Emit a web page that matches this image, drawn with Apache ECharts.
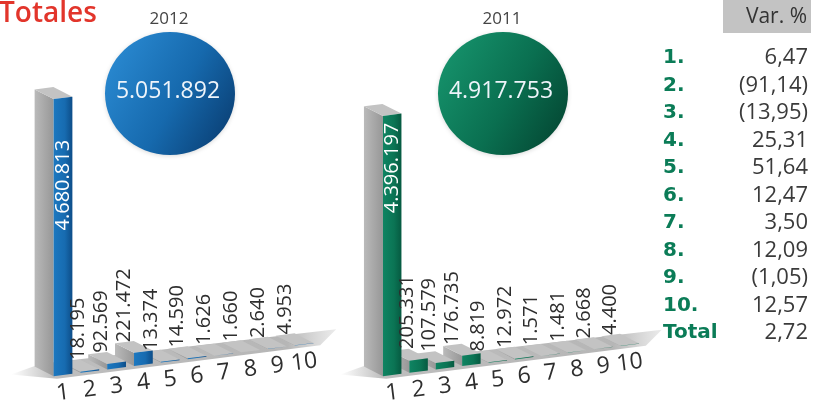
<!DOCTYPE html>
<html>
<head>
<meta charset="utf-8">
<script src="https://cdn.jsdelivr.net/npm/echarts@6/dist/echarts.min.js"></script>
<style>
  html, body { margin: 0; padding: 0; background: #ffffff; }
  #chart { width: 820px; height: 402px; }
</style>
</head>
<body>
<div id="chart"></div>
<script>
// ---- data ----
const categories = ['1', '2', '3', '4', '5', '6', '7', '8', '9', '10'];
const values2012 = [4680813, 18195, 92569, 221472, 13374, 14590, 1626, 1660, 2640, 4953];
const values2011 = [4396197, 205331, 107579, 176735, 8819, 12972, 1571, 1481, 2668, 4400];
const years = ['2012', '2011'];
const varRowLabels = ['1.', '2.', '3.', '4.', '5.', '6.', '7.', '8.', '9.', '10.', 'Total'];
const varPct = [6.47, -91.14, -13.95, 25.31, 51.64, 12.47, 3.50, 12.09, -1.05, 12.57, 2.72];

// ---- helpers ----
const FONT = '"Open Sans", "Noto Sans", sans-serif';
const SLOPE = 0.127;          // perspective tilt of the floor (px per px)
const DEPTH = [-19, -12];     // depth vector of the 3D boxes

function fmtThousands(n) {
  return String(Math.round(n)).replace(/\B(?=(\d{3})+(?!\d))/g, '.');
}
function fmtPct(p) {
  const s = Math.abs(p).toFixed(2).replace('.', ',');
  return p < 0 ? '(' + s + ')' : s;
}
const sum = arr => arr.reduce((a, b) => a + b, 0);

const charts = [
  {
    values: values2012, year: years[0], innerGap: 42,
    front: ['#1c78c0', '#176bb0', '#0d4d88'],
    circle: ['#2a8ad2', '#1669ad', '#0a3f74'],
    cx: 170
  },
  {
    values: values2011, year: years[1], innerGap: 8,
    front: ['#0f8462', '#0b7454', '#065a41'],
    circle: ['#16936c', '#0a6f50', '#044733'],
    cx: 503
  }
];

function makeTransform(api) {
  const x0 = api.coord([0, 0])[0];
  return (x, y) => [x, y - SLOPE * (x - x0)];
}

function floorRenderer(params, api) {
  const T = makeTransform(api);
  const first = api.coord([0, 0]);
  const last = api.coord([categories.length - 1, 0]);
  const yb = first[1];
  const pts = [
    T(first[0] - 52, yb - 7),
    T(first[0] - 6, yb + 3),
    T(last[0] + 16, yb + 3),
    T(last[0] + 32, yb - 11),
    T(first[0] - 22, yb - 14)
  ];
  return {
    type: 'polygon',
    shape: { points: pts },
    style: {
      fill: new echarts.graphic.LinearGradient(0, 0, 1, 0, [
        { offset: 0, color: 'rgba(195,195,195,0)' },
        { offset: 0.13, color: '#bebebe' },
        { offset: 0.85, color: '#b6b6b6' },
        { offset: 1, color: 'rgba(205,205,205,0.4)' }
      ])
    },
    z2: 0
  };
}

function barRenderer(cfg) {
  return function (params, api) {
    const T = makeTransform(api);
    const i = api.value(0);
    const v = api.value(1);
    const base = api.coord([i, 0]);
    const top = api.coord([i, v]);
    const c0 = api.coord([0, 0])[0];
    const band = api.size([1, 0])[0];
    const w = band * 0.7;
    const xl = base[0] - w / 2, xr = base[0] + w / 2;
    const yb = base[1], yt = top[1];
    const dx = DEPTH[0], dy = DEPTH[1];
    const order = (categories.length - i) * 4;

    const side = [T(xl + dx, yt + dy), T(xl, yt), T(xl, yb), T(xl + dx, yb + dy)];
    const topFace = [T(xl + dx, yt + dy), T(xr + dx, yt + dy), T(xr, yt), T(xl, yt)];
    const front = [T(xl, yt), T(xr, yt), T(xr, yb), T(xl, yb)];

    const children = [
      {
        type: 'polygon', shape: { points: side }, z2: order,
        style: {
          fill: new echarts.graphic.LinearGradient(0, 0, 1, 0, [
            { offset: 0, color: '#bababa' }, { offset: 1, color: '#979797' }
          ])
        }
      },
      { type: 'polygon', shape: { points: topFace }, z2: order + 1, style: { fill: '#c3c3c3' } },
      {
        type: 'polygon', shape: { points: front }, z2: order + 2,
        style: {
          fill: new echarts.graphic.LinearGradient(0, 0, 1, 0, [
            { offset: 0, color: cfg.front[0] }, { offset: 0.6, color: cfg.front[1] },
            { offset: 1, color: cfg.front[2] }
          ])
        }
      }
    ];

    // value label
    const text = fmtThousands(v);
    if (yb - yt > 150) {
      const p = T(base[0], yt + cfg.innerGap);
      children.push({
        type: 'text', x: p[0], y: p[1], rotation: Math.PI / 2, z2: 300,
        style: { text, fill: '#ffffff', font: '20px ' + FONT, align: 'right', verticalAlign: 'middle' }
      });
    } else {
      const lx = Math.max(base[0] - 0.72 * band, c0 + 0.56 * band + (i - 1) * 0.86 * band);
      const p = T(lx, yt - 12);
      children.push({
        type: 'text', x: p[0], y: p[1], rotation: Math.PI / 2, z2: 300,
        style: { text, fill: '#2e2e2e', font: '20px ' + FONT, align: 'left', verticalAlign: 'middle' }
      });
    }

    // category label on the tilted floor
    const q = T(base[0], yb + 18);
    children.push({
      type: 'text', x: q[0], y: q[1], rotation: 7 * Math.PI / 180, z2: 300,
      style: { text: categories[i], fill: '#2e2e2e', font: '23px ' + FONT, align: 'center', verticalAlign: 'middle' }
    });

    return { type: 'group', children };
  };
}

// ---- decorations: title, year circles, variation table ----
const graphics = [
  {
    type: 'text', left: -1, top: 0,
    style: { text: 'Totales', fill: '#e2352b', font: '600 28px ' + FONT }
  }
];
charts.forEach(cfg => {
  graphics.push({
    type: 'text', x: cfg.cx - 1, y: 19,
    style: { text: cfg.year, fill: '#444444', font: '17px ' + FONT, align: 'center', verticalAlign: 'middle' }
  });
  graphics.push({
    type: 'ellipse', shape: { cx: cfg.cx, cy: 93.5, rx: 65, ry: 61.5 },
    style: {
      fill: new echarts.graphic.LinearGradient(0, 0.2, 1, 0.8, [
        { offset: 0, color: cfg.circle[0] }, { offset: 0.55, color: cfg.circle[1] },
        { offset: 1, color: cfg.circle[2] }
      ]),
      shadowBlur: 4, shadowColor: 'rgba(0,0,0,0.15)', shadowOffsetY: 1
    }
  });
  graphics.push({
    type: 'text', x: cfg.cx - 2, y: 91,
    style: { text: fmtThousands(sum(cfg.values)), fill: '#eef4fa', font: '23px ' + FONT, align: 'center', verticalAlign: 'middle' }
  });
});

graphics.push({ type: 'rect', shape: { x: 723, y: 0, width: 88, height: 33 }, style: { fill: '#c3c3c3' } });
graphics.push({
  type: 'text', x: 807, y: 17,
  style: { text: 'Var. %', fill: '#333333', font: '21px ' + FONT, align: 'right', verticalAlign: 'middle' }
});
varRowLabels.forEach((lab, k) => {
  const y = 58 + 27.5 * k;
  graphics.push({
    type: 'text', x: 663, y,
    style: { text: lab, fill: '#0b7c57', font: 'bold 20px "DejaVu Sans", sans-serif', align: 'left', verticalAlign: 'middle' }
  });
  graphics.push({
    type: 'text', x: 808, y,
    style: { text: fmtPct(varPct[k]), fill: '#3a3a3a', font: '22px ' + FONT, align: 'right', verticalAlign: 'middle' }
  });
});

// ---- chart ----
const chart = echarts.init(document.getElementById('chart'), null, { renderer: 'canvas' });
const grids = [
  { left: 49.6, width: 268, top: 79, bottom: 27 },
  { left: 379, width: 264, top: 79, bottom: 27 }
];
const option = {
  backgroundColor: '#ffffff',
  animation: false,
  grid: grids,
  xAxis: grids.map((g, k) => ({ type: 'category', gridIndex: k, data: categories, show: false })),
  yAxis: grids.map((g, k) => ({ type: 'value', gridIndex: k, min: 0, max: 5000000, show: false })),
  series: charts.flatMap((cfg, k) => [
    {
      type: 'custom', name: 'floor' + cfg.year, xAxisIndex: k, yAxisIndex: k, z: 1,
      data: [[0, 0]], renderItem: floorRenderer, silent: true
    },
    {
      type: 'custom', name: cfg.year, xAxisIndex: k, yAxisIndex: k, z: 2,
      data: cfg.values.map((v, i) => [i, v]), renderItem: barRenderer(cfg)
    }
  ]),
  graphic: graphics
};
chart.setOption(option);
</script>
</body>
</html>
